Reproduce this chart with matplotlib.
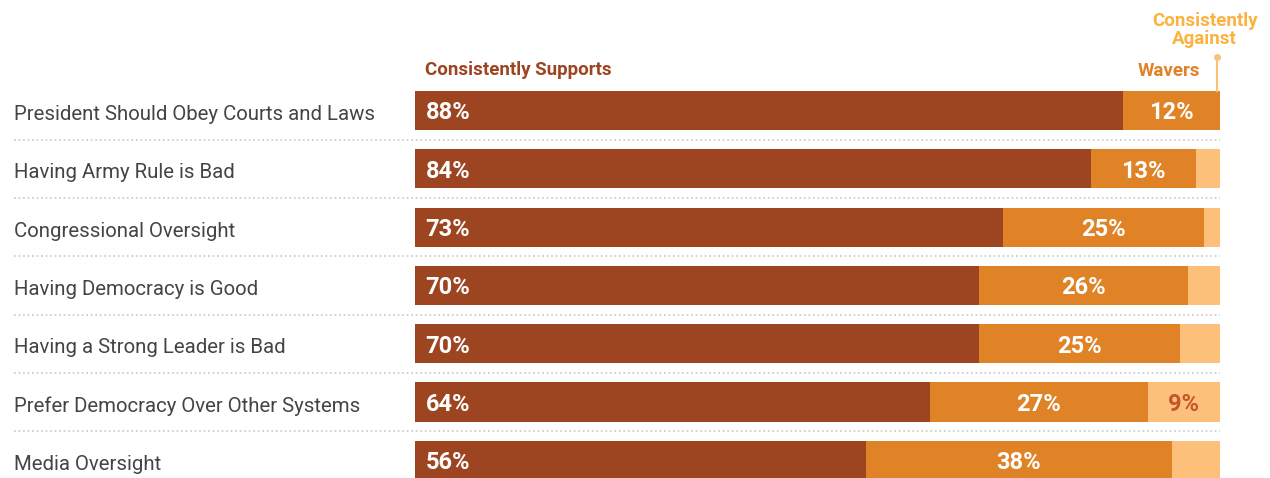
import matplotlib.pyplot as plt
import matplotlib.transforms as mtransforms

# Survey items and shares (percent)
items = [
    "President Should Obey Courts and Laws",
    "Having Army Rule is Bad",
    "Congressional Oversight",
    "Having Democracy is Good",
    "Having a Strong Leader is Bad",
    "Prefer Democracy Over Other Systems",
    "Media Oversight",
]
supports = [88, 84, 73, 70, 70, 64, 56]
wavers = [12, 13, 25, 26, 25, 27, 38]
against = [0.5, 3, 2, 4, 5, 9, 6]

support_labels = ["88%", "84%", "73%", "70%", "70%", "64%", "56%"]
waver_labels = ["12%", "13%", "25%", "26%", "25%", "27%", "38%"]
against_labels = ["", "", "", "", "", "9%", ""]

c_sup = "#9d4521"
c_wav = "#e08226"
c_ag = "#fdc07a"
c_ag_text = "#fbb240"

plt.rcParams['font.family'] = ['Roboto', 'DejaVu Sans']

W, H = 1270, 478
fig = plt.figure(figsize=(W / 100, H / 100), dpi=100)
# bars run from x=415px to 1220px
ax = fig.add_axes([415 / W, 0, 805 / W, 1])
ax.set_xlim(0, 100)
top_px, step = 110.5, 58.3
ax.set_ylim((H - top_px) / step, -top_px / step)
ax.axis("off")

rows = range(len(items))
ax.barh(rows, supports, height=0.67, color=c_sup)
ax.barh(rows, wavers, left=supports, height=0.67, color=c_wav)
left2 = [s + w for s, w in zip(supports, wavers)]
ax.barh(rows, against, left=left2, height=0.67, color=c_ag)

lab = mtransforms.blended_transform_factory(fig.transFigure, ax.transData)
for i in rows:
    ax.text(14 / W, i + 0.07, items[i], transform=lab, ha="left", va="center",
            fontsize=14.7, color="#444444", clip_on=False)
    ax.text(1.3, i + 0.04, support_labels[i], ha="left", va="center",
            fontsize=17, fontweight="bold", color="white")
    ax.text(supports[i] + wavers[i] / 2, i + 0.04, waver_labels[i], ha="center",
            va="center", fontsize=17, fontweight="bold", color="white")
    if against_labels[i]:
        ax.text(left2[i] + against[i] / 2, i + 0.04, against_labels[i], ha="center",
                va="center", fontsize=17, fontweight="bold", color="#c4562a")
    if i < len(items) - 1:
        ax.plot([(14 - 415) / 805 * 100, 100], [i + 0.5, i + 0.5], transform=ax.transData,
                color="#cfcfcf", lw=1.3, ls=(0, (1, 1.5)), clip_on=False)

# legend-style headers
ax.text(1.2, -0.69, "Consistently Supports", ha="left", va="center",
        fontsize=13.5, fontweight="bold", color=c_sup)
ax.text(97.5, -0.67, "Wavers", ha="right", va="center",
        fontsize=13.5, fontweight="bold", color=c_wav)
ax.text(98.1, -1.38, "Consistently\nAgainst", ha="center", va="center",
        fontsize=13.5, fontweight="bold", color=c_ag_text, linespacing=1.05)
ax.plot([99.6, 99.6], [-0.91, -0.34], color=c_ag, lw=1.5)
ax.plot([99.6], [-0.91], "o", color=c_ag, ms=4)

fig.savefig("out.png", dpi=100)
